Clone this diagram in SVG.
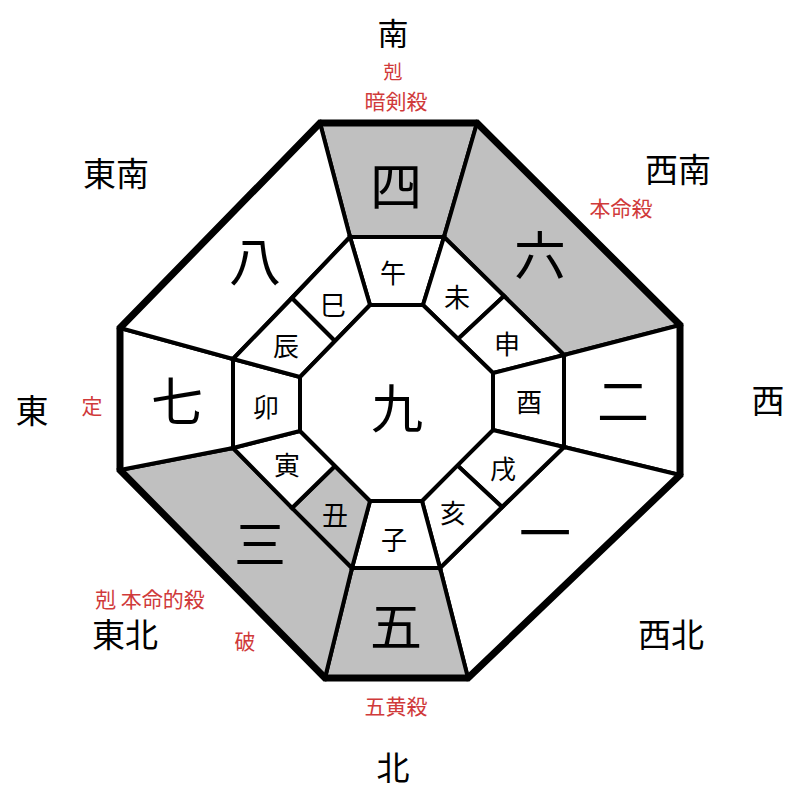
<svg xmlns="http://www.w3.org/2000/svg" width="800" height="800" viewBox="0 0 800 800">
<style>
text{font-family:"Noto Sans CJK JP","Noto Sans CJK SC",sans-serif;text-anchor:middle;dominant-baseline:central}
.cell{stroke:#000;stroke-width:4;stroke-linejoin:miter}
.w{fill:#fff}
.g{fill:#c0c0c0}
.num{font-size:52px;fill:#000}
.br{font-size:26px;fill:#000}
.dir{font-size:33px;fill:#000}
.red{font-size:21px;fill:#d03a3a}
</style>
<rect width="800" height="800" fill="#fff"/>
<g id="stars">
<g id="s-4"><polygon class="cell g" points="320,123 477,123 444,237 350,237"/><text class="num" x="396" y="183">四</text></g>
<g id="s-6"><polygon class="cell g" points="477,123 680,325 564,355 444,237"/><text class="num" x="540" y="252">六</text></g>
<g id="s-2"><polygon class="cell w" points="680,325 680,475 564,447 564,355"/><text class="num" x="623" y="398">二</text></g>
<g id="s-1"><polygon class="cell w" points="680,475 468,678 440,568 564,447"/><text class="num" x="545" y="530">一</text></g>
<g id="s-5"><polygon class="cell g" points="468,678 325,678 352,568 440,568"/><text class="num" x="396" y="623">五</text></g>
<g id="s-3"><polygon class="cell g" points="325,678 120,470 233,448 352,568"/><text class="num" x="260" y="541">三</text></g>
<g id="s-7"><polygon class="cell w" points="120,470 120,328 233,359 233,448"/><text class="num" x="177" y="398">七</text></g>
<g id="s-8"><polygon class="cell w" points="120,328 320,123 350,237 233,359"/><text class="num" x="255" y="258">八</text></g>
</g>
<g id="branches">
<g id="b-uma"><polygon class="cell w" points="350,237 444,237 423,305 370,305"/><text class="br" x="393" y="271">午</text></g>
<g id="b-hitsuji"><polygon class="cell w" points="444,237 504,296 458,339 423,305"/><text class="br" x="457" y="295">未</text></g>
<g id="b-saru"><polygon class="cell w" points="504,296 564,355 493,373 458,339"/><text class="br" x="507" y="342">申</text></g>
<g id="b-tori"><polygon class="cell w" points="564,355 564,447 493,430 493,373"/><text class="br" x="529" y="400">酉</text></g>
<g id="b-inu"><polygon class="cell w" points="564,447 502,507 457,465 493,430"/><text class="br" x="503" y="467">戌</text></g>
<g id="b-i"><polygon class="cell w" points="502,507 440,568 422,501 457,465"/><text class="br" x="453" y="511">亥</text></g>
<g id="b-ne"><polygon class="cell w" points="440,568 352,568 370,501 422,501"/><text class="br" x="394" y="538">子</text></g>
<g id="b-ushi"><polygon class="cell g" points="352,568 292,508 335,466 370,501"/><text class="br" x="335" y="513">丑</text></g>
<g id="b-tora"><polygon class="cell w" points="292,508 233,448 300,431 335,466"/><text class="br" x="287" y="463">寅</text></g>
<g id="b-u"><polygon class="cell w" points="233,448 233,359 300,377 300,431"/><text class="br" x="266" y="405">卯</text></g>
<g id="b-tatsu"><polygon class="cell w" points="233,359 292,298 335,341 300,377"/><text class="br" x="286" y="344">辰</text></g>
<g id="b-mi"><polygon class="cell w" points="292,298 350,237 370,305 335,341"/><text class="br" x="333" y="303">巳</text></g>
</g>
<g id="center"><polygon class="cell w" points="370,305 423,305 493,373 493,430 422,501 370,501 300,431 300,377"/><text class="num" x="397" y="405">九</text></g>
<g id="connectors">
<polygon points="320,123 477,123 680,325 680,475 468,678 325,678 120,470 120,328" fill="none" stroke="#000" stroke-width="7" stroke-linejoin="miter"/>
</g>
<g id="labels">
<text class="dir" x="393" y="31" style="font-size:31px">南</text>
<text class="red" x="393" y="70" style="font-size:19px">剋</text>
<text class="red" x="396" y="100">暗剣殺</text>
<text class="dir" x="116" y="172">東南</text>
<text class="dir" x="678" y="168">西南</text>
<text class="red" x="621" y="207">本命殺</text>
<text class="dir" x="32" y="409">東</text>
<text class="red" x="92" y="405">定</text>
<text class="dir" x="768" y="399">西</text>
<text class="red" x="150" y="598">剋 本命的殺</text>
<text class="dir" x="125" y="633">東北</text>
<text class="red" x="245" y="640">破</text>
<text class="dir" x="671" y="633">西北</text>
<text class="red" x="396" y="705">五黄殺</text>
<text class="dir" x="393" y="766">北</text>
</g>
</svg>
